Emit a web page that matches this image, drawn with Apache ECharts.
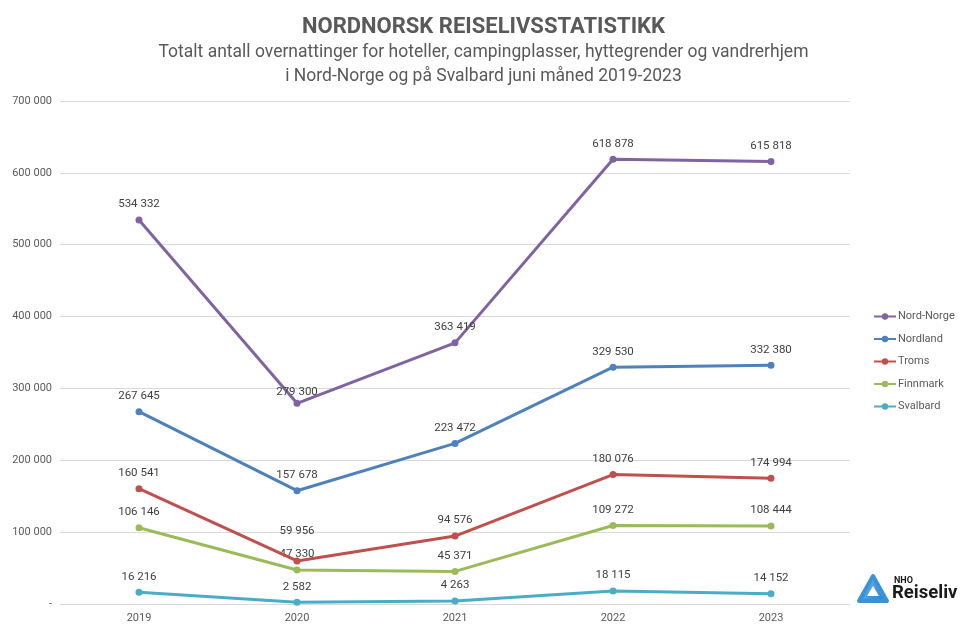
<!DOCTYPE html>
<html><head><meta charset="utf-8">
<script src="https://cdn.jsdelivr.net/npm/echarts@6/dist/echarts.min.js"></script>
<style>html,body{margin:0;padding:0;background:#fff}#c{width:967px;height:625px}</style>
</head><body><div id="c"></div>
<script>
const categories = ['2019','2020','2021','2022','2023'];
const seriesNames = ['Nord-Norge','Nordland','Troms','Finnmark','Svalbard'];
const nordNorge = [534332, 279300, 363419, 618878, 615818];
const nordland = [267645, 157678, 223472, 329530, 332380];
const troms = [160541, 59956, 94576, 180076, 174994];
const finnmark = [106146, 47330, 45371, 109272, 108444];
const svalbard = [16216, 2582, 4263, 18115, 14152];
const yTicks = [0, 100000, 200000, 300000, 400000, 500000, 600000, 700000];

const colors = ['#8064A2','#4F81BD','#C0504D','#9BBB59','#4BACC6'];
const values = [nordNorge, nordland, troms, finnmark, svalbard];
const fmt = v => v === 0 ? '-' : String(v).replace(/\B(?=(\d{3})+(?!\d))/g, ' ');
const font = 'Roboto, "Open Sans", sans-serif';

const chart = echarts.init(document.getElementById('c'), null, {renderer:'canvas'});
chart.setOption({
  animation: false,
  color: colors,
  title: [
    {text: 'NORDNORSK REISELIVSSTATISTIKK', left: 'center', top: 11,
     textStyle: {fontFamily: font, fontSize: 22, fontWeight: 'bold', color: '#595959'}},
    {text: 'Totalt antall overnattinger for hoteller, campingplasser, hyttegrender og vandrerhjem\ni Nord-Norge og på Svalbard juni måned 2019-2023',
     left: 'center', top: 36,
     textStyle: {fontFamily: font, fontSize: 17.5, fontWeight: 'normal', color: '#595959', lineHeight: 24}}
  ],
  legend: {
    orient: 'vertical', left: 868, top: 306, itemGap: 11.5, itemWidth: 22, itemHeight: 8,
    data: seriesNames,
    textStyle: {fontFamily: font, fontSize: 11, color: '#595959', padding: [0,0,0,-3]}
  },
  grid: {left: 60, right: 117, top: 101, bottom: 21, containLabel: false},
  xAxis: {
    type: 'category', data: categories, boundaryGap: true,
    axisLine: {show: true, lineStyle: {color: '#d9d9d9'}}, axisTick: {show: false},
    axisLabel: {fontFamily: font, fontSize: 11, color: '#595959', margin: 9}
  },
  yAxis: {
    type: 'value', min: 0, max: 700000, interval: 100000,
    axisLine: {show: false}, axisTick: {show: false},
    splitLine: {lineStyle: {color: '#d9d9d9'}},
    axisLabel: {fontFamily: font, fontSize: 11, color: '#595959', margin: 8,
      formatter: v => yTicks.includes(v) ? fmt(v) : ''}
  },
  series: seriesNames.map((n, i) => ({
    name: n, type: 'line', data: values[i].map((v, j) => {
      const d = {value: v};
      if (n === 'Troms' && j === 1) d.label = {offset: [0, -14]};
      if (n === 'Nord-Norge' && j === 1) d.label = {offset: [0, 4]};
      return d;
    }),
    symbol: 'circle', symbolSize: 7,
    lineStyle: {width: 3, color: colors[i]},
    itemStyle: {color: colors[i]},
    label: {show: true, position: 'top', distance: 6, fontFamily: font, fontSize: 11.5, color: '#404040',
      formatter: p => fmt(p.value)},
    z: 10 - i
  })),
  graphic: [
    {type: 'polygon', shape: {points: [[873,576],[887,601],[859,601]]},
     style: {fill: new echarts.graphic.LinearGradient(0,0,1,1,[{offset:0,color:'#7cc4ee'},{offset:1,color:'#1f78c8'}]),
       stroke: '#3a93d8', lineWidth: 4, lineJoin: 'round'}},
    {type: 'polygon', shape: {points: [[873,586],[879,596],[867,596]]},
     style: {fill: '#ffffff'}},
    {type: 'text', left: 894, top: 576, style: {text: 'NHO', fontFamily: font, fontSize: 9, fontWeight: 'bold', fill: '#1a1a1a'}},
    {type: 'text', left: 892, top: 584, style: {text: 'Reiseliv', fontFamily: font, fontSize: 18.5, fontWeight: 'bold', fill: '#1a1a1a'}}
  ]
});
</script></body></html>
